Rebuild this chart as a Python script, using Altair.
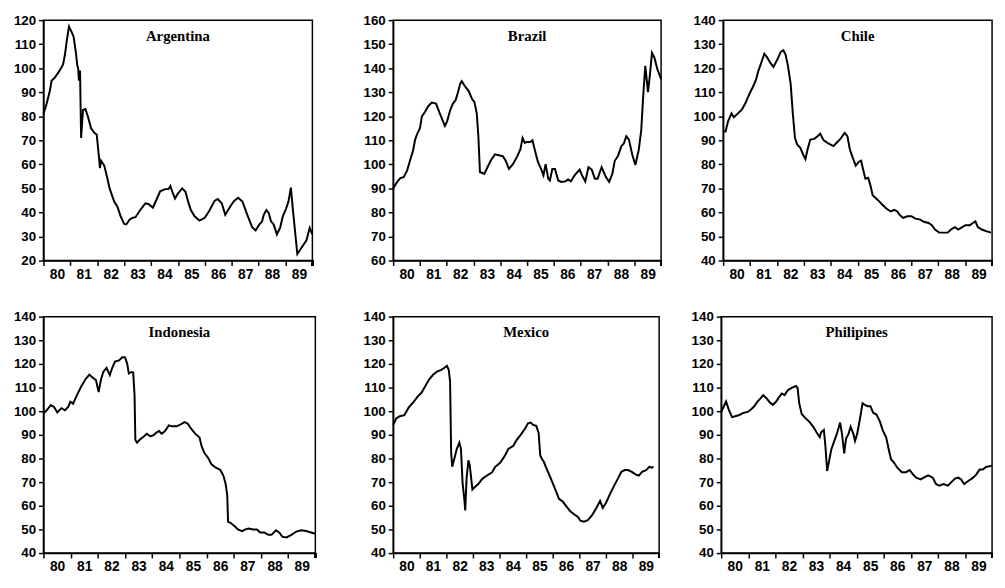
import altair as alt
import pandas as pd

names = ["Argentina", "Brazil", "Chile", "Indonesia", "Mexico", "Philipines"]
y_domains = [[20, 120], [60, 160], [40, 140], [40, 140], [40, 140], [40, 140]]
label_years = [1980.5 + k for k in range(10)]

arg_t = [1980.0, 1980.12, 1980.24, 1980.3, 1980.43, 1980.6, 1980.73, 1980.8, 1980.86, 1980.95,
         1981.04, 1981.12, 1981.2, 1981.26, 1981.29, 1981.32, 1981.36, 1981.4, 1981.47, 1981.56,
         1981.65, 1981.77, 1981.9, 1981.98, 1982.06, 1982.1, 1982.14, 1982.26, 1982.38, 1982.46,
         1982.63, 1982.75, 1982.87, 1983.0, 1983.08, 1983.2, 1983.3, 1983.42, 1983.6, 1983.79,
         1983.9, 1984.07, 1984.22, 1984.34, 1984.52, 1984.65, 1984.72, 1984.8, 1984.89, 1985.01,
         1985.16, 1985.28, 1985.38, 1985.48, 1985.62, 1985.8, 1985.99, 1986.17, 1986.36, 1986.48,
         1986.63, 1986.76, 1986.85, 1986.97, 1987.09, 1987.24, 1987.4, 1987.58, 1987.76, 1987.89,
         1988.01, 1988.13, 1988.19, 1988.29, 1988.38, 1988.46, 1988.56, 1988.68, 1988.8, 1988.9,
         1989.02, 1989.11, 1989.2, 1989.27, 1989.44, 1989.6, 1989.78, 1989.9, 1990.0]
arg_v = [81.0, 85.3, 90.7, 94.8, 96.2, 99.0, 101.6, 105.7, 111.0, 117.3,
         115.2, 113.2, 107.0, 101.0, 100.0, 94.8, 99.0, 71.0, 82.6, 83.0,
         80.0, 75.0, 73.0, 72.4, 63.5, 58.4, 61.5, 59.5, 54.0, 50.0,
         44.5, 42.4, 38.4, 35.2, 35.0, 37.0, 37.7, 38.0, 41.0, 43.8,
         43.5, 42.0, 45.8, 48.8, 49.7, 49.7, 51.0, 48.3, 45.8, 48.0,
         50.0, 48.6, 44.5, 41.0, 38.4, 36.6, 37.7, 40.7, 44.8, 45.6,
         43.8, 39.0, 40.7, 42.9, 44.8, 46.1, 44.5, 39.0, 33.9, 32.5,
         34.7, 36.3, 39.0, 41.0, 39.7, 36.3, 35.0, 30.9, 33.6, 38.4,
         41.5, 44.5, 50.3, 41.8, 22.7, 25.4, 28.4, 33.6, 30.9]

bra_t = [1980.0, 1980.15, 1980.27, 1980.39, 1980.52, 1980.64, 1980.74, 1980.82, 1980.91, 1981.0,
         1981.07, 1981.19, 1981.31, 1981.44, 1981.6, 1981.74, 1981.93, 1982.01, 1982.13, 1982.23,
         1982.33, 1982.42, 1982.5, 1982.56, 1982.66, 1982.82, 1982.94, 1983.03, 1983.12, 1983.18,
         1983.24, 1983.31, 1983.4, 1983.52, 1983.64, 1983.8, 1983.95, 1984.1, 1984.2, 1984.32,
         1984.47, 1984.63, 1984.75, 1984.83, 1984.91, 1985.0, 1985.12, 1985.2, 1985.28, 1985.4,
         1985.52, 1985.61, 1985.69, 1985.79, 1985.85, 1985.94, 1986.04, 1986.16, 1986.28, 1986.43,
         1986.53, 1986.63, 1986.77, 1986.96, 1987.04, 1987.17, 1987.29, 1987.41, 1987.53, 1987.63,
         1987.78, 1987.94, 1988.06, 1988.18, 1988.27, 1988.39, 1988.52, 1988.61, 1988.7, 1988.8,
         1988.92, 1989.04, 1989.17, 1989.26, 1989.33, 1989.41, 1989.48, 1989.51, 1989.58, 1989.66,
         1989.75, 1989.86, 1990.0]
bra_v = [90.0, 92.7, 94.3, 94.7, 97.4, 102.0, 105.6, 110.3, 113.0, 115.0,
         119.9, 121.9, 124.2, 125.7, 125.3, 121.2, 116.0, 117.8, 122.6, 125.3,
         126.7, 130.0, 133.5, 134.6, 132.8, 130.5, 127.3, 126.0, 121.2, 111.7,
         96.7, 96.5, 96.0, 98.8, 101.5, 104.2, 103.8, 103.3, 101.5, 98.1,
         100.1, 103.3, 106.3, 111.0, 109.0, 109.3, 109.3, 110.0, 106.3, 101.1,
         98.1, 95.4, 100.1, 94.0, 93.3, 98.1, 98.1, 93.3, 92.7, 92.9,
         93.7, 92.9, 95.4, 97.8, 95.6, 92.9, 98.8, 97.8, 94.0, 94.0,
         98.8, 94.7, 92.7, 96.0, 101.5, 103.5, 107.6, 108.7, 111.7, 110.3,
         104.2, 99.7, 106.3, 114.4, 128.0, 141.0, 133.5, 130.0, 136.9, 146.4,
         144.4, 139.6, 135.5]

chi_t = [1980.0, 1980.09, 1980.18, 1980.31, 1980.4, 1980.55, 1980.7, 1980.82, 1980.98, 1981.1,
         1981.22, 1981.31, 1981.43, 1981.53, 1981.63, 1981.75, 1981.87, 1982.02, 1982.14, 1982.24,
         1982.32, 1982.41, 1982.51, 1982.59, 1982.67, 1982.75, 1982.87, 1982.97, 1983.06, 1983.14,
         1983.24, 1983.39, 1983.51, 1983.61, 1983.73, 1983.91, 1984.1, 1984.22, 1984.36, 1984.52,
         1984.62, 1984.71, 1984.8, 1984.93, 1985.05, 1985.13, 1985.2, 1985.29, 1985.39, 1985.46,
         1985.56, 1985.75, 1985.93, 1986.08, 1986.23, 1986.36, 1986.48, 1986.56, 1986.69, 1986.85,
         1987.0, 1987.15, 1987.33, 1987.46, 1987.64, 1987.76, 1987.88, 1988.03, 1988.19, 1988.35,
         1988.47, 1988.62, 1988.74, 1988.89, 1989.01, 1989.17, 1989.29, 1989.38, 1989.47, 1989.62,
         1989.78, 1989.96]
chi_v = [93.7, 93.7, 97.8, 101.2, 99.6, 101.2, 102.9, 105.3, 109.4, 112.1,
         115.1, 118.9, 122.7, 126.0, 124.6, 122.3, 120.5, 123.7, 126.8, 127.5,
         125.7, 121.0, 113.5, 101.2, 91.0, 88.3, 86.9, 84.2, 82.2, 86.3,
         90.3, 90.6, 91.7, 92.8, 90.1, 88.7, 87.6, 89.0, 90.6, 93.1,
         91.7, 86.3, 83.3, 79.5, 81.1, 81.5, 78.1, 74.0, 74.4, 72.0,
         67.2, 65.2, 63.1, 61.5, 60.4, 61.1, 60.4, 59.0, 57.7, 58.4,
         58.4, 57.4, 57.0, 56.1, 55.6, 54.7, 52.9, 51.6, 51.6, 51.6,
         52.9, 53.9, 52.9, 53.9, 54.7, 54.7, 55.6, 56.3, 53.9, 52.9,
         52.2, 51.6]

ind_t = [1980.0, 1980.12, 1980.27, 1980.39, 1980.51, 1980.66, 1980.79, 1980.91, 1980.99, 1981.09,
         1981.21, 1981.39, 1981.55, 1981.69, 1981.81, 1981.93, 1982.03, 1982.11, 1982.2, 1982.32,
         1982.44, 1982.54, 1982.63, 1982.78, 1982.9, 1983.0, 1983.08, 1983.14, 1983.24, 1983.3,
         1983.35, 1983.38, 1983.44, 1983.56, 1983.68, 1983.8, 1983.93, 1984.05, 1984.17, 1984.25,
         1984.35, 1984.47, 1984.61, 1984.73, 1984.89, 1985.05, 1985.19, 1985.31, 1985.43, 1985.58,
         1985.74, 1985.82, 1985.92, 1986.06, 1986.18, 1986.34, 1986.5, 1986.62, 1986.7, 1986.76,
         1986.79, 1986.88, 1987.03, 1987.15, 1987.31, 1987.43, 1987.55, 1987.71, 1987.85, 1987.97,
         1988.12, 1988.27, 1988.39, 1988.55, 1988.67, 1988.79, 1988.94, 1989.12, 1989.3, 1989.48,
         1989.66, 1989.84, 1990.0]
ind_v = [99.1, 100.4, 102.6, 101.8, 99.5, 101.3, 100.4, 101.8, 104.0, 103.2,
         106.3, 110.5, 113.6, 115.5, 114.2, 113.2, 108.1, 113.2, 116.6, 118.3,
         115.3, 118.7, 121.0, 121.5, 122.8, 122.8, 120.1, 116.0, 116.6, 116.4,
         107.0, 87.8, 86.7, 88.1, 89.2, 90.5, 89.4, 89.9, 91.1, 91.6,
         90.5, 91.6, 94.0, 93.6, 93.6, 94.4, 95.4, 94.7, 92.6, 90.5,
         88.9, 85.1, 82.3, 80.2, 77.5, 76.1, 75.2, 72.7, 69.3, 64.4,
         53.2, 52.8, 51.4, 50.0, 49.3, 50.0, 50.4, 50.0, 50.0, 48.7,
         48.7, 47.7, 47.7, 49.6, 48.7, 46.9, 46.6, 47.7, 49.1, 49.6,
         49.3, 48.7, 48.2]

mex_t = [1980.0, 1980.12, 1980.25, 1980.42, 1980.58, 1980.76, 1980.91, 1981.07, 1981.19, 1981.35,
         1981.5, 1981.65, 1981.81, 1981.93, 1982.02, 1982.09, 1982.14, 1982.18, 1982.22, 1982.3,
         1982.39, 1982.49, 1982.55, 1982.61, 1982.67, 1982.71, 1982.76, 1982.83, 1982.88, 1982.98,
         1983.04, 1983.2, 1983.35, 1983.53, 1983.72, 1983.84, 1984.03, 1984.19, 1984.33, 1984.52,
         1984.64, 1984.8, 1984.95, 1985.07, 1985.17, 1985.26, 1985.38, 1985.47, 1985.53, 1985.59,
         1985.67, 1985.75, 1985.87, 1986.0, 1986.12, 1986.24, 1986.37, 1986.49, 1986.65, 1986.8,
         1986.95, 1987.04, 1987.17, 1987.32, 1987.48, 1987.64, 1987.78, 1987.88, 1988.01, 1988.15,
         1988.3, 1988.46, 1988.58, 1988.71, 1988.83, 1988.99, 1989.14, 1989.24, 1989.36, 1989.51,
         1989.63, 1989.73, 1989.79]
mex_v = [94.2, 97.0, 97.9, 98.3, 101.5, 103.8, 106.1, 107.9, 110.2, 113.4,
         115.4, 116.8, 117.5, 118.4, 119.2, 117.5, 112.7, 82.6, 76.5, 79.9,
         84.0, 86.7, 84.0, 69.6, 63.5, 58.0, 71.6, 79.2, 77.2, 66.9,
         67.6, 69.2, 71.4, 72.8, 74.2, 76.5, 78.3, 81.0, 84.0, 85.4,
         87.8, 90.1, 92.5, 94.9, 95.2, 94.2, 93.8, 90.8, 81.3, 79.9,
         78.5, 76.1, 73.1, 69.6, 66.2, 62.8, 61.9, 60.1, 57.8, 56.4,
         55.3, 53.7, 53.3, 53.9, 56.0, 59.1, 62.1, 59.1, 61.4, 64.9,
         68.3, 71.7, 74.4, 75.1, 75.1, 74.2, 73.1, 72.8, 74.4, 75.1,
         76.5, 76.1, 76.5]

phi_t = [1980.0, 1980.1, 1980.18, 1980.28, 1980.4, 1980.52, 1980.67, 1980.82, 1980.98, 1981.1,
         1981.22, 1981.34, 1981.46, 1981.55, 1981.67, 1981.79, 1981.91, 1982.03, 1982.15, 1982.24,
         1982.34, 1982.46, 1982.6, 1982.76, 1982.82, 1982.88, 1982.97, 1983.09, 1983.25, 1983.4,
         1983.52, 1983.64, 1983.69, 1983.79, 1983.85, 1983.91, 1983.97, 1984.06, 1984.15, 1984.27,
         1984.39, 1984.46, 1984.54, 1984.61, 1984.7, 1984.78, 1984.88, 1984.94, 1985.02, 1985.12,
         1985.22, 1985.3, 1985.42, 1985.51, 1985.61, 1985.73, 1985.85, 1985.97, 1986.09, 1986.19,
         1986.27, 1986.39, 1986.51, 1986.67, 1986.82, 1986.96, 1987.08, 1987.2, 1987.36, 1987.48,
         1987.64, 1987.81, 1987.93, 1988.05, 1988.21, 1988.37, 1988.49, 1988.63, 1988.75, 1988.85,
         1988.97, 1989.12, 1989.3, 1989.42, 1989.54, 1989.66, 1989.78, 1990.0]
phi_v = [99.7, 102.1, 104.1, 100.7, 97.5, 97.9, 98.4, 99.3, 99.7, 100.7,
         102.1, 104.1, 105.5, 106.8, 105.5, 103.8, 102.7, 104.1, 106.2, 107.5,
         106.8, 108.9, 109.9, 110.7, 109.9, 103.4, 98.9, 97.3, 95.6, 93.4,
         91.1, 89.0, 91.1, 92.1, 84.9, 74.7, 78.1, 83.6, 86.6, 90.4,
         95.2, 90.4, 82.2, 88.4, 90.4, 93.4, 90.4, 87.4, 90.4, 96.6,
         103.4, 102.7, 102.1, 102.1, 99.3, 98.6, 95.9, 91.8, 89.0, 83.6,
         79.7, 78.1, 76.0, 74.2, 74.2, 75.1, 73.3, 71.9, 71.2, 71.9,
         72.9, 71.9, 69.2, 68.5, 69.2, 68.5, 69.9, 71.5, 71.9, 71.2,
         69.2, 70.5, 71.9, 73.3, 75.3, 75.3, 76.4, 77.0]

series = [(arg_t, arg_v), (bra_t, bra_v), (chi_t, chi_v),
          (ind_t, ind_v), (mex_t, mex_v), (phi_t, phi_v)]

# panel geometry: width, height, y-axis extent
geom = [(273, 244, 35), (272, 244, 57), (273, 244, 38),
        (276, 240, 35), (270, 240, 54), (275, 240, 41)]

SANS = "Liberation Sans"
SERIF = "Liberation Serif"
TICK = 5


def panel(i):
    name = names[i]
    t, v = series[i]
    ydom = y_domains[i]
    w, h, ext = geom[i]
    data = pd.DataFrame({"t": t, "v": v})
    xaxis = alt.Axis(
        values=label_years,
        labelExpr="format(floor(datum.value) % 100, 'd')",
        tickOffset=-w / 20, labelOffset=w / 20, labelFlush=False, labelOverlap=False,
        tickSize=TICK, tickWidth=1.5, tickColor="black",
        domainColor="black", domainWidth=1.5,
        labelPadding=2, labelFont=SANS, labelFontSize=14,
        labelFontWeight="bold", labelColor="black",
        grid=False, title=None,
    )
    yaxis = alt.Axis(
        values=list(range(ydom[0], ydom[1] + 1, 10)),
        tickSize=TICK, tickWidth=1.5, tickColor="black",
        domainColor="black", domainWidth=1.5,
        labelPadding=3, labelFont=SANS, labelFontSize=13.5,
        labelFontWeight="bold", labelColor="black",
        grid=False, title=None, minExtent=ext,
    )
    line = alt.Chart(data).mark_line(color="black", strokeWidth=2).encode(
        x=alt.X("t:Q", scale=alt.Scale(domain=[1980, 1990], nice=False, zero=False), axis=xaxis),
        y=alt.Y("v:Q", scale=alt.Scale(domain=ydom, nice=False, zero=False), axis=yaxis),
    )
    # closing tick under the right-hand end of the x axis
    end_tick = alt.Chart(data).mark_rule(color="black", strokeWidth=1.5).encode(
        x=alt.value(w), y=alt.value(h), y2=alt.value(h + TICK)
    )
    label = alt.Chart(pd.DataFrame({"name": [name]})).mark_text(
        font=SERIF, fontSize=15, fontWeight="bold", color="black",
        align="center", baseline="alphabetic",
    ).encode(text="name:N", x=alt.value(w / 2), y=alt.value(21))
    return alt.layer(line, end_tick, label).properties(width=w, height=h)


top = alt.hconcat(panel(0), panel(1), panel(2), spacing=19)
bottom = alt.hconcat(panel(3), panel(4), panel(5), spacing=19)
chart = (
    alt.vconcat(top, bottom, spacing=27)
    .properties(padding=0)
    .configure_view(stroke="black", strokeWidth=1.5)
)

chart.save("out.html", embed_options={"renderer": "svg", "actions": False})
